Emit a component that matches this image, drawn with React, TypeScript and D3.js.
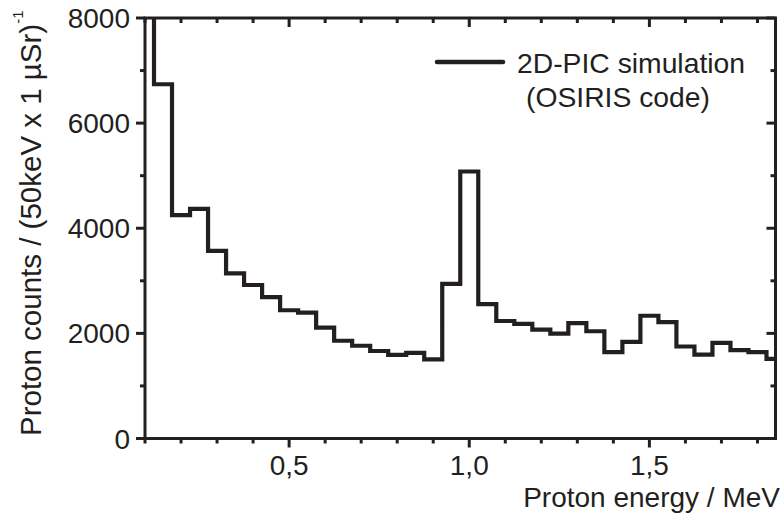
import React from "react";
import * as d3 from "d3";

// Bin centres (MeV), 50 keV bins
const energies: number[] = [
  0.1, 0.15, 0.2, 0.25, 0.3, 0.35, 0.4, 0.45, 0.5, 0.55, 0.6, 0.65, 0.7, 0.75,
  0.8, 0.85, 0.9, 0.95, 1.0, 1.05, 1.1, 1.15, 1.2, 1.25, 1.3, 1.35, 1.4, 1.45,
  1.5, 1.55, 1.6, 1.65, 1.7, 1.75, 1.8, 1.85,
];
// Proton counts per bin (first bin is off-scale)
const counts: number[] = [
  9500, 6740, 4250, 4370, 3570, 3140, 2920, 2690, 2440, 2395, 2110, 1860, 1765,
  1665, 1590, 1630, 1505, 2940, 5080, 2555, 2235, 2180, 2070, 1995, 2195, 2040,
  1645, 1840, 2335, 2215, 1750, 1595, 1820, 1682, 1645, 1515,
];

const xMajorTicks: number[] = [0.5, 1.0, 1.5];
const xMajorLabels: string[] = ["0,5", "1,0", "1,5"];
const xMinorTicks: number[] = [0.1, 0.2, 0.3, 0.4, 0.6, 0.7, 0.8, 0.9, 1.1, 1.2, 1.3, 1.4, 1.6, 1.7, 1.8];
const yMajorTicks: number[] = [0, 2000, 4000, 6000, 8000];
const yMajorLabels: string[] = ["0", "2000", "4000", "6000", "8000"];
const yMinorTicks: number[] = [1000, 3000, 5000, 7000];

const seriesName1 = "2D-PIC simulation";
const seriesName2 = "(OSIRIS code)";
const xTitle = "Proton energy / MeV";
const yTitle = "Proton counts / (50keV x 1 µSr)";
const yTitleSup = "-1";

const W = 784;
const H = 522;
const left = 145;
const right = 775.5;
const top = 18;
const bottom = 438.5;
const ink = "#231f20";
const font = "'Liberation Sans', Arial, Helvetica, sans-serif";

export default function App() {
  const x = d3.scaleLinear().domain([0.1, 1.85]).range([left, right]);
  const y = d3.scaleLinear().domain([0, 8000]).range([bottom, top]);

  const pts: [number, number][] = energies.map((e, i) => [e, counts[i]]);
  const line = d3
    .line<[number, number]>()
    .x((d) => x(d[0]))
    .y((d) => y(d[1]))
    .curve(d3.curveStep);
  const path = line(pts) || "";

  const majLen = 9;
  const minLen = 5;

  return (
    <div style={{ position: "fixed", left: 0, top: 0 }}>
      <svg width={W} height={H} style={{ display: "block", background: "#fff" }}>
        <defs>
          <clipPath id="plotclip">
            <rect x={left} y={top} width={right - left} height={bottom - top} />
          </clipPath>
        </defs>

        {/* data */}
        <path
          d={path}
          fill="none"
          stroke={ink}
          strokeWidth={4.2}
          strokeLinejoin="miter"
          clipPath="url(#plotclip)"
        />

        {/* frame */}
        <rect
          x={left}
          y={top}
          width={right - left}
          height={bottom - top}
          fill="none"
          stroke={ink}
          strokeWidth={3}
        />

        {/* x ticks bottom (out) and top (in) */}
        {xMajorTicks.map((t) => (
          <g key={"xM" + t}>
            <line x1={x(t)} x2={x(t)} y1={bottom} y2={bottom + majLen} stroke={ink} strokeWidth={3} />
            <line x1={x(t)} x2={x(t)} y1={top} y2={top + majLen} stroke={ink} strokeWidth={3} />
          </g>
        ))}
        {xMinorTicks.map((t) => (
          <g key={"xm" + t}>
            <line x1={x(t)} x2={x(t)} y1={bottom} y2={bottom + minLen} stroke={ink} strokeWidth={3} />
            <line x1={x(t)} x2={x(t)} y1={top} y2={top + minLen} stroke={ink} strokeWidth={3} />
          </g>
        ))}
        {xMajorTicks.map((t, i) => (
          <text
            key={"xl" + t}
            x={x(t)}
            y={475}
            textAnchor="middle"
            fontFamily={font}
            fontSize={28}
            fill={ink}
          >
            {xMajorLabels[i]}
          </text>
        ))}

        {/* y ticks left (out) and right (in) */}
        {yMajorTicks.map((t) => (
          <g key={"yM" + t}>
            <line x1={left - majLen} x2={left} y1={y(t)} y2={y(t)} stroke={ink} strokeWidth={3} />
            <line x1={right - majLen} x2={right} y1={y(t)} y2={y(t)} stroke={ink} strokeWidth={3} />
          </g>
        ))}
        {yMinorTicks.map((t) => (
          <g key={"ym" + t}>
            <line x1={left - minLen} x2={left} y1={y(t)} y2={y(t)} stroke={ink} strokeWidth={3} />
            <line x1={right - minLen} x2={right} y1={y(t)} y2={y(t)} stroke={ink} strokeWidth={3} />
          </g>
        ))}
        {yMajorTicks.map((t, i) => (
          <text
            key={"yl" + t}
            x={130}
            y={y(t)}
            dy="0.36em"
            textAnchor="end"
            fontFamily={font}
            fontSize={28}
            fill={ink}
          >
            {yMajorLabels[i]}
          </text>
        ))}

        {/* axis titles */}
        <text
          x={780}
          y={507}
          textAnchor="end"
          fontFamily={font}
          fontSize={28}
          fill={ink}
        >
          {xTitle}
        </text>
        <text
          transform="translate(41,436) rotate(-90)"
          textAnchor="start"
          fontFamily={font}
          fontSize={29.5}
          fill={ink}
        >
          {yTitle}
          <tspan dy={-18} fontSize={15}>
            {yTitleSup}
          </tspan>
        </text>

        {/* legend */}
        <line x1={437} x2={503} y1={62} y2={62} stroke={ink} strokeWidth={4.5} strokeLinecap="round" />
        <text x={517} y={73} fontFamily={font} fontSize={28.3} fill={ink}>
          {seriesName1}
        </text>
        <text x={526} y={107} fontFamily={font} fontSize={28.3} fill={ink}>
          {seriesName2}
        </text>
      </svg>
    </div>
  );
}
